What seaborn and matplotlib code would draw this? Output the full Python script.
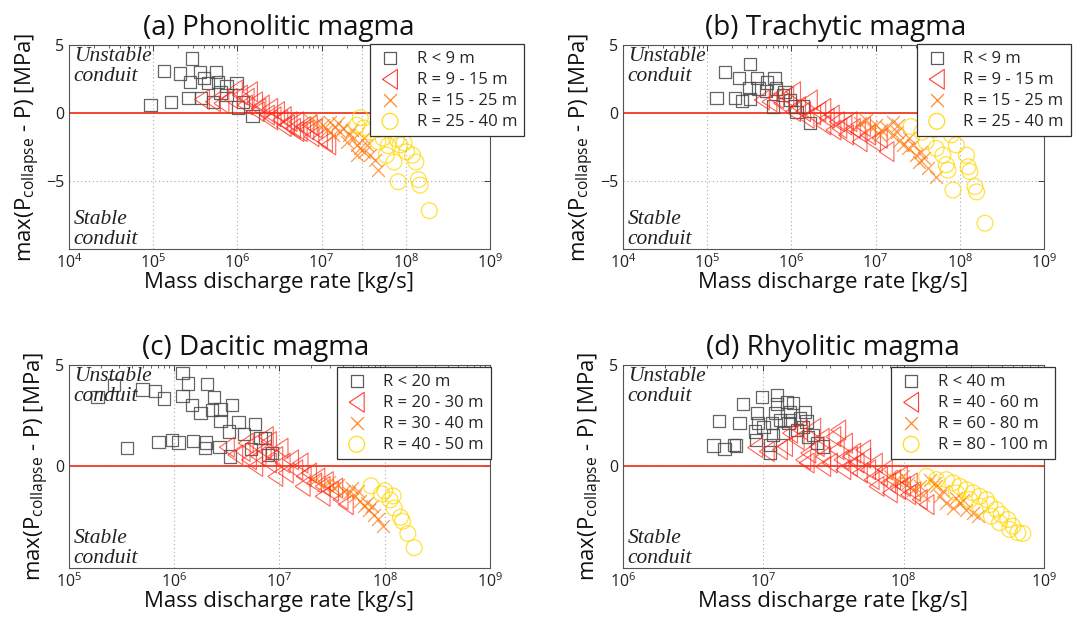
import numpy as np
import pandas as pd
import matplotlib
matplotlib.use('Agg')
import matplotlib.pyplot as plt
import seaborn as sns
from matplotlib.ticker import LogLocator, FixedLocator, FuncFormatter, NullFormatter

# values: log10(mass discharge rate [kg/s]) and max(P_collapse - P) [MPa]
# (a) Phonolitic
a_sq_lx = [4.97, 5.21, 5.13, 5.32, 5.46, 5.44, 5.56, 5.75, 5.65, 5.77, 5.87, 5.99, 5.42, 5.57, 5.71, 5.87, 6.01, 6.07, 6.18, 5.60, 5.80]
a_sq_dp = [0.6, 0.8, 3.1, 2.9, 4.0, 2.3, 3.0, 3.0, 2.2, 2.3, 2.0, 2.2, 1.1, 1.1, 0.8, 1.3, 0.4, 0.8, -0.2, 2.6, 1.5]
a_tr_lx = [5.58, 5.71, 5.81, 5.91, 5.97, 6.03, 6.09, 6.15, 6.21, 6.23, 6.29, 6.35, 6.39, 6.43, 6.47, 6.51, 6.55, 6.59,
           6.62, 6.66, 6.70, 6.74, 6.78, 6.82, 6.88, 6.92, 6.98, 7.04, 7.08, 6.86, 6.70, 6.55, 6.39, 6.25, 6.11]
a_tr_dp = [1.00, 0.83, 0.71, 1.08, 1.69, 1.32, 0.59, 1.57, 0.83, 0.10, 0.59, -0.15, 0.34, -0.27, 0.10, -0.51, -0.27, -0.88,
           -0.64, -1.13, -0.64, -1.37, -1.00, -1.25, -1.74, -1.13, -1.86, -2.11, -2.35, -0.88, -1.37, -1.00, -0.51, 0.34, 1.08]
a_x_lx = [6.86, 6.94, 7.02, 7.10, 7.16, 7.22, 7.26, 7.32, 7.38, 7.42, 7.46, 7.50, 7.54, 7.58, 7.63, 7.67, 7.14, 7.30, 7.42, 7.20, 7.50, 7.36, 7.06]
a_x_dp = [-0.51, -0.76, -0.88, -0.64, -1.00, -1.37, -1.13, -1.62, -1.86, -2.35, -2.60, -2.84, -2.35, -3.09, -3.46, -4.19, -1.62, -2.11, -3.09, -0.76, -1.86, -1.25, -1.25]
a_ci_lx = [7.42, 7.46, 7.50, 7.58, 7.69, 7.73, 7.67, 7.79, 7.77, 7.86, 7.89, 7.93, 7.98, 8.01, 8.08, 8.12, 7.91, 8.15, 8.17, 8.28]
a_ci_dp = [-0.9, -0.35, -1.1, -1.4, -1.2, -1.85, -2.1, -2.4, -3.1, -3.6, -1.9, -2.35, -2.2, -2.85, -3.1, -3.6, -5.05, -4.9, -5.3, -7.18]

# (b) Trachytic
b_sq_lx = [5.11, 5.33, 5.41, 5.51, 5.21, 5.38, 5.51, 5.59, 5.71, 5.80, 5.50, 5.61, 5.70, 5.82, 5.90, 5.78, 5.98, 6.04, 6.14, 6.22, 5.92, 6.06]
b_sq_dp = [1.13, 1.08, 0.88, 1.03, 2.99, 2.55, 3.58, 2.55, 2.25, 2.55, 1.86, 1.81, 1.62, 1.81, 1.32, 0.47, 0.96, 0.47, 0.47, -0.76, 1.57, 0.10]
b_tr_lx = [5.65, 5.74, 5.82, 5.88, 5.94, 6.02, 6.08, 6.14, 6.22, 6.26, 6.32, 6.38, 6.42, 6.48, 6.54, 6.57, 6.63, 6.69,
           6.73, 6.79, 6.85, 6.91, 6.97, 7.05, 7.13, 6.50, 6.65, 6.81, 6.38, 6.18, 6.02]
b_tr_dp = [0.96, 0.83, 1.08, 0.71, 1.20, 1.57, 0.47, 0.10, 0.96, -0.15, 0.10, 0.34, -0.39, -0.15, -0.64, -1.13, -0.88, -0.64,
           -1.13, -1.37, -1.00, -1.62, -2.11, -1.86, -2.84, -1.25, -1.62, -2.11, -0.88, -0.39, 0.10]
b_x_lx = [6.81, 6.89, 6.95, 7.01, 7.07, 7.13, 7.19, 7.25, 7.29, 7.33, 7.38, 7.44, 7.48, 7.52, 7.58, 7.62, 7.72, 7.21, 7.40, 7.54, 7.05, 7.27]
b_x_dp = [-0.76, -0.51, -1.00, -0.88, -1.25, -1.00, -1.62, -1.37, -1.98, -2.35, -2.60, -2.35, -3.09, -3.58, -3.33, -4.07, -4.68, -0.64, -1.86, -2.84, -1.62, -0.88]
b_ci_lx = [7.42, 7.60, 7.72, 7.80, 7.84, 7.86, 7.96, 8.08, 8.10, 8.12, 7.92, 8.18, 8.20, 8.30, 7.55, 7.70, 7.90]
b_ci_dp = [-1.0, -2.1, -2.6, -3.1, -3.8, -4.2, -2.35, -3.1, -3.95, -4.3, -5.66, -5.4, -5.8, -8.1, -1.4, -1.2, -1.6]

# (c) Dacitic
c_sq_lx = [5.27, 5.43, 5.55, 5.70, 5.82, 5.90, 6.08, 6.13, 6.08, 6.17, 6.25, 6.31, 6.38, 6.36, 6.44, 6.44, 6.55, 6.52,
           6.61, 6.66, 6.77, 5.85, 5.98, 6.04, 6.18, 6.30, 6.29, 6.43, 6.53, 6.73, 6.82, 6.89, 6.93, 6.86]
c_sq_dp = [3.43, 4.00, 0.90, 3.79, 3.73, 3.35, 4.61, 4.09, 3.46, 3.02, 2.62, 4.05, 3.43, 2.78, 2.81, 2.25, 3.02, 1.72,
           2.20, 1.60, 2.09, 1.20, 1.31, 1.18, 1.26, 1.18, 0.90, 0.95, 0.49, 0.85, 1.39, 0.57, 0.66, 1.40]
c_tr_lx = [6.50, 6.58, 6.65, 6.71, 6.76, 6.80, 6.85, 6.90, 6.90, 6.96, 7.01, 7.03, 7.06, 7.11, 7.15, 7.20, 7.23, 7.28,
           7.33, 7.36, 7.41, 7.44, 7.49, 7.53, 7.58, 7.63, 6.77, 6.96, 7.22, 7.41, 6.68, 6.87]
c_tr_dp = [0.95, 0.57, 0.74, 0.33, 1.15, 0.49, 0.82, 1.23, 0.17, 0.49, 0.90, 0.17, -0.32, 0.33, -0.16, 0.17, -0.49, -0.32,
           -0.81, -0.57, -0.98, -0.74, -1.23, -1.06, -1.63, -1.88, 0.00, -0.49, -0.98, -1.47, 1.15, 1.47]
c_x_lx = [7.34, 7.41, 7.47, 7.52, 7.56, 7.61, 7.66, 7.69, 7.72, 7.77, 7.80, 7.85, 7.90, 7.94, 7.98, 7.75, 7.83, 7.88]
c_x_dp = [-0.65, -0.90, -0.74, -1.06, -0.90, -1.23, -1.30, -1.06, -1.47, -1.72, -1.96, -2.12, -2.37, -2.61, -2.94, -1.23, -1.80, -1.96]
c_ci_lx = [7.87, 7.97, 8.00, 8.05, 8.08, 8.09, 8.15, 8.17, 8.22, 8.28]
c_ci_dp = [-0.95, -1.35, -1.2, -1.65, -1.45, -2.05, -2.5, -2.7, -3.3, -4.0]

# (d) Rhyolitic
d_sq_lx = [6.645, 6.723, 6.792, 6.804, 6.683, 6.830, 6.858, 6.954, 6.989, 6.965, 6.942, 6.949, 7.048, 7.060, 7.100, 7.100,
           7.084, 7.167, 7.191, 7.179, 7.214, 7.262, 7.297, 7.285, 7.321, 7.356, 7.381, 7.427, 7.238, 7.143, 7.068, 7.048,
           7.191, 7.119, 7.001, 7.309]
d_sq_dp = [1.03, 0.87, 1.06, 1.03, 2.24, 2.13, 3.07, 2.62, 3.43, 2.13, 1.72, 1.31, 1.06, 2.13, 3.51, 3.07,
           2.62, 3.19, 2.70, 2.13, 3.14, 2.37, 2.70, 1.96, 1.47, 1.55, 1.15, 0.98, 1.80, 1.64, 1.55, 0.69,
           2.29, 2.29, 1.96, 2.21]
d_tr_lx = [6.942, 7.025, 7.119, 7.191, 7.155, 7.238, 7.262, 7.285, 7.321, 7.356, 7.381, 7.416, 7.427, 7.475, 7.499, 7.523,
           7.558, 7.582, 7.617, 7.641, 7.665, 7.688, 7.712, 7.747, 7.772, 7.795, 7.831, 7.866, 7.890, 7.925, 7.961, 7.996,
           8.032, 8.068, 8.115, 8.163, 7.807, 7.902, 7.570, 7.427, 7.309, 7.534, 7.712, 7.617, 7.973, 8.044]
d_tr_dp = [0.93, 0.74, 0.82, 1.64, 0.98, 1.31, 1.80, 0.33, 0.66, 1.88, 0.98, 1.39, 0.49, 0.17, 1.47, 0.82,
           0.33, 1.15, 0.00, 0.66, 0.17, -0.32, 0.41, -0.16, -0.65, 0.17, -0.49, -0.16, -0.81, -0.65, -1.14, -0.98,
           -1.39, -1.23, -1.63, -1.88, -0.98, -1.30, -0.16, 0.00, 0.17, 1.80, 0.82, 0.49, -0.49, -0.81]
d_x_lx = [7.902, 7.949, 7.996, 8.032, 8.068, 8.115, 8.139, 8.186, 8.234, 8.257, 8.305, 8.352, 8.400, 8.447, 8.494, 8.530,
          8.281, 8.376, 8.222, 8.423]
d_x_dp = [-0.49, -0.65, -0.49, -0.81, -1.14, -0.98, -1.39, -0.65, -0.98, -1.47, -1.79, -2.04, -1.79, -2.12, -2.28, -2.45,
          -1.23, -1.55, -0.81, -1.63]
d_ci_lx = [8.163, 8.234, 8.305, 8.352, 8.400, 8.447, 8.494, 8.542, 8.590, 8.613, 8.661, 8.696, 8.743, 8.779, 8.814,
           8.376, 8.471, 8.542, 8.625, 8.684, 8.755, 8.85]
d_ci_dp = [-0.49, -0.65, -0.65, -0.81, -0.98, -1.14, -1.30, -1.47, -1.63, -1.88, -2.12, -2.37, -2.61, -2.94, -3.26,
           -1.30, -1.63, -1.96, -2.45, -2.77, -3.10, -3.3]

labels_ab = ['R < 9 m', 'R = 9 - 15 m', 'R = 15 - 25 m', 'R = 25 - 40 m']
labels_c = ['R < 20 m', 'R = 20 - 30 m', 'R = 30 - 40 m', 'R = 40 - 50 m']
labels_d = ['R < 40 m', 'R = 40 - 60 m', 'R = 60 - 80 m', 'R = 80 - 100 m']

titles = ['(a) Phonolitic magma', '(b) Trachytic magma', '(c) Dacitic magma', '(d) Rhyolitic magma']

sns.set_theme(style='white')
plt.rcParams['font.family'] = ['Open Sans', 'DejaVu Sans']
plt.rcParams['mathtext.fontset'] = 'custom'
plt.rcParams['mathtext.rm'] = 'Open Sans'
plt.rcParams['mathtext.it'] = 'Open Sans:italic'
plt.rcParams['mathtext.default'] = 'regular'

tri = [(-0.75, 0.0), (0.75, 1.0), (0.75, -1.0), (-0.75, 0.0)]
styles = [
    dict(marker='s', s=78, color='#4a4a4a', alpha=0.85, lw=0.9, hollow=True),
    dict(marker=tri, s=205, color='#ff2a1a', alpha=0.72, lw=0.8, hollow=True),
    dict(marker='x', s=85, color='#ff7a10', alpha=0.75, lw=0.9, hollow=False),
    dict(marker='o', s=130, color='#ffd800', alpha=0.75, lw=0.9, hollow=True),
]

panels = [
    dict(groups=[(a_sq_lx, a_sq_dp), (a_tr_lx, a_tr_dp), (a_x_lx, a_x_dp), (a_ci_lx, a_ci_dp)],
         labels=labels_ab, xlim=(1e4, 1e9), ylim=(-10, 5), yticks=[-5, 0, 5],
         rect=[0.0642, 0.599, 0.392, 0.3285], leg=(0.715, 1.005), tx=0.4975),
    dict(groups=[(b_sq_lx, b_sq_dp), (b_tr_lx, b_tr_dp), (b_x_lx, b_x_dp), (b_ci_lx, b_ci_dp)],
         labels=labels_ab, xlim=(1e4, 1e9), ylim=(-10, 5), yticks=[-5, 0, 5],
         rect=[0.580, 0.599, 0.392, 0.3285], leg=(0.698, 1.005), tx=0.506),
    dict(groups=[(c_sq_lx, c_sq_dp), (c_tr_lx, c_tr_dp), (c_x_lx, c_x_dp), (c_ci_lx, c_ci_dp)],
         labels=labels_c, xlim=(1e5, 1e9), ylim=(-5, 5), yticks=[0, 5],
         rect=[0.0642, 0.0853, 0.392, 0.327], leg=(0.636, 0.99), tx=0.444),
    dict(groups=[(d_sq_lx, d_sq_dp), (d_tr_lx, d_tr_dp), (d_x_lx, d_x_dp), (d_ci_lx, d_ci_dp)],
         labels=labels_d, xlim=(1e6, 1e9), ylim=(-5, 5), yticks=[0, 5],
         rect=[0.580, 0.0853, 0.392, 0.327], leg=(0.637, 0.99), tx=0.4996),
]

fig = plt.figure(figsize=(10.74, 6.21), dpi=100)

for i, p in enumerate(panels):
    ax = fig.add_axes(p['rect'])
    frames = []
    for (lx, dp), lab in zip(p['groups'], p['labels']):
        frames.append(pd.DataFrame({'rate': 10 ** np.array(lx), 'dp': dp, 'group': lab}))
    df = pd.concat(frames, ignore_index=True)

    ax.set_xscale('log')
    for lab, st in zip(p['labels'], styles):
        sub = df[df['group'] == lab]
        if st['hollow']:
            sns.scatterplot(data=sub, x='rate', y='dp', ax=ax, marker=st['marker'], s=st['s'],
                            facecolor='none', edgecolor=st['color'], linewidth=st['lw'],
                            alpha=st['alpha'], label=lab, zorder=3)
        else:
            sns.scatterplot(data=sub, x='rate', y='dp', ax=ax, marker=st['marker'], s=st['s'],
                            color=st['color'], linewidth=st['lw'], alpha=st['alpha'], label=lab, zorder=3)

    ax.axhline(0, color='#f23a22', lw=1.3, zorder=2)
    ax.set_xlim(*p['xlim'])
    ax.set_ylim(*p['ylim'])

    ax.xaxis.set_major_locator(LogLocator(base=10, numticks=12))
    ax.xaxis.set_minor_locator(LogLocator(base=10, subs=np.arange(2, 10), numticks=12))
    ax.xaxis.set_major_formatter(FuncFormatter(lambda v, pos: r'$10^{%d}$' % round(np.log10(v))))
    ax.xaxis.set_minor_formatter(NullFormatter())
    ax.yaxis.set_major_locator(FixedLocator(p['yticks']))
    ax.set_yticklabels(['\u22125' if t == -5 else str(t) for t in p['yticks']])

    ax.grid(True, which='major', axis='both', color='#a8a8a8', linestyle=(0, (1, 2.5)), lw=0.8, zorder=0)
    if i == 0:
        ax.axvline(3e7, color='#a8a8a8', linestyle=(0, (1, 2.5)), lw=0.8, zorder=0)
    ax.tick_params(which='both', direction='in', top=True, right=True, labelsize=11.5, colors='#222222')
    ax.tick_params(which='major', length=4, width=0.6)
    ax.tick_params(which='minor', length=2.5, width=0.5)
    ax.tick_params(axis='x', pad=3)
    for sp in ax.spines.values():
        sp.set_color('#555555')
        sp.set_linewidth(0.8)

    ax.set_xlabel('Mass discharge rate [kg/s]', fontsize=16, labelpad=0, color='#111111')
    ax.set_ylabel(r'max(P$_{collapse}$ - P) [MPa]', fontsize=16, labelpad=3, color='#111111')
    ax.set_title(titles[i], fontsize=20, pad=7, x=p['tx'], color='#111111')

    ax.text(0.011, 0.988, 'Unstable\nconduit', transform=ax.transAxes, va='top', ha='left',
            family='Liberation Serif', style='italic', fontsize=15.5, linespacing=1.05, color='#222222')
    ax.text(0.011, 0.0, 'Stable\nconduit', transform=ax.transAxes, va='bottom', ha='left',
            family='Liberation Serif', style='italic', fontsize=15.5, linespacing=1.05, color='#222222')

    leg = ax.legend(loc='upper left', bbox_to_anchor=p['leg'], fontsize=12, frameon=True, fancybox=False,
                    borderpad=0.4, labelspacing=0.3, handlelength=1.6, handletextpad=0.8,
                    borderaxespad=0, framealpha=1)
    leg.get_frame().set_edgecolor('#333333')
    leg.get_frame().set_linewidth(0.9)
    leg.set_zorder(10)
    for h in leg.legend_handles:
        h.set_alpha(0.9)

fig.savefig('out.png', dpi=100)
